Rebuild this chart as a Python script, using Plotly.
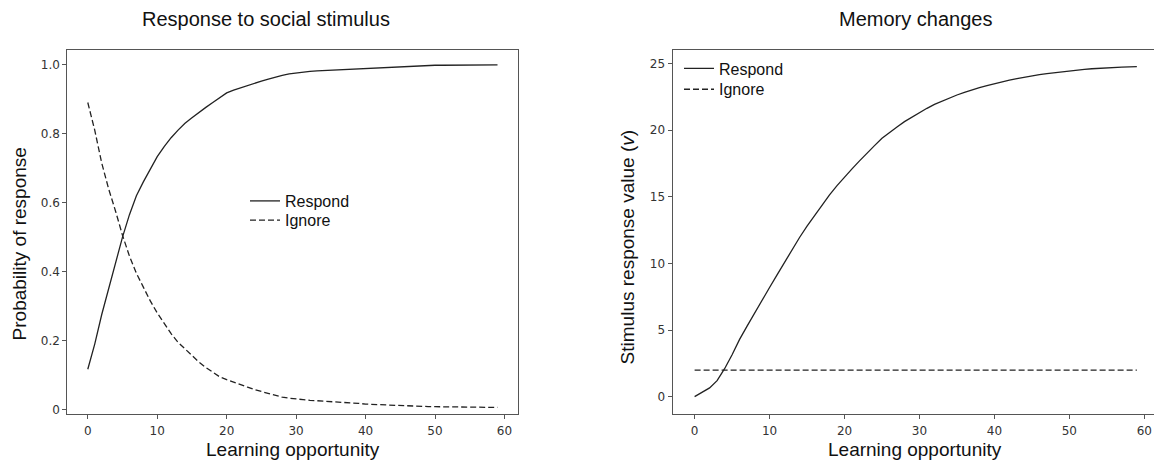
import plotly.graph_objects as go

# ---------------- data ----------------
x_steps = list(range(60))

prob_respond = [0.117, 0.19, 0.275, 0.35, 0.425, 0.5, 0.565, 0.62, 0.66, 0.695,
                0.733, 0.762, 0.788, 0.81, 0.83, 0.846, 0.862, 0.876, 0.89, 0.905,
                0.918, 0.926, 0.933, 0.94, 0.946, 0.952, 0.958, 0.964, 0.969, 0.973,
                0.976, 0.978, 0.98, 0.982, 0.983, 0.984, 0.985, 0.986, 0.987, 0.988,
                0.99, 0.991, 0.992, 0.993, 0.994, 0.995, 0.996, 0.996, 0.997, 0.997,
                0.998, 0.998, 0.998, 0.998, 0.999, 0.999, 0.999, 0.999, 0.999, 0.999]

prob_ignore = [0.89, 0.81, 0.715, 0.64, 0.575, 0.505, 0.445, 0.395, 0.355, 0.315,
               0.28, 0.25, 0.22, 0.195, 0.175, 0.155, 0.138, 0.122, 0.108, 0.095,
               0.087, 0.079, 0.072, 0.065, 0.058, 0.052, 0.046, 0.041, 0.036, 0.033,
               0.03, 0.029, 0.027, 0.026, 0.025, 0.023, 0.022, 0.021, 0.019, 0.018,
               0.016, 0.015, 0.014, 0.013, 0.012, 0.011, 0.010, 0.0095, 0.009, 0.0088,
               0.0085, 0.008, 0.0078, 0.0075, 0.0072, 0.007, 0.0068, 0.0067, 0.0066, 0.0066]

value_respond = [0.0, 0.3, 0.66, 1.2, 2.1, 3.15, 4.3, 5.3, 6.3, 7.3,
                 8.2, 9.15, 10.1, 11.0, 11.95, 12.8, 13.6, 14.4, 15.15, 15.85,
                 16.5, 17.1, 17.7, 18.3, 18.85, 19.4, 19.85, 20.25, 20.65, 21.0,
                 21.35, 21.65, 21.95, 22.2, 22.45, 22.65, 22.85, 23.05, 23.2, 23.35,
                 23.5, 23.63, 23.76, 23.88, 23.99, 24.1, 24.18, 24.26, 24.33, 24.4,
                 24.47, 24.52, 24.57, 24.62, 24.66, 24.69, 24.72, 24.74, 24.76, 24.78]

value_ignore = [2.0] * 60

x_ticks = [0, 10, 20, 30, 40, 50, 60]
prob_ticks = [0, 0.2, 0.4, 0.6, 0.8, 1.0]
prob_tick_text = ["0", "0.2", "0.4", "0.6", "0.8", "1.0"]
value_ticks = [0, 5, 10, 15, 20, 25]

# ---------------- figure ----------------
W, H = 1154, 463
def px(x):
    return x / W
def py(y):
    return 1 - y / H

LINE = "#222222"
DASH = "6px,3px"
SPINE = "#555555"
TEXT_FONT = "Liberation Sans, Arial, sans-serif"
TICK_FONT = dict(family="DejaVu Sans, sans-serif", size=12, color="#333333")
LEG_FONT = dict(family=TEXT_FONT, size=16, color="#111111")

fig = go.Figure()

fig.add_trace(go.Scatter(x=x_steps, y=prob_respond, mode="lines", name="Respond",
                         line=dict(color=LINE, width=1.3), xaxis="x", yaxis="y",
                         legend="legend"))
fig.add_trace(go.Scatter(x=x_steps, y=prob_ignore, mode="lines", name="Ignore",
                         line=dict(color=LINE, width=1.3, dash=DASH), xaxis="x", yaxis="y",
                         legend="legend2"))
fig.add_trace(go.Scatter(x=x_steps, y=value_respond, mode="lines", name="Respond",
                         line=dict(color=LINE, width=1.3), xaxis="x2", yaxis="y2",
                         legend="legend3"))
fig.add_trace(go.Scatter(x=x_steps, y=value_ignore, mode="lines", name="Ignore",
                         line=dict(color=LINE, width=1.3, dash=DASH), xaxis="x2", yaxis="y2",
                         legend="legend4"))

axis_common = dict(showgrid=False, zeroline=False, showline=True, linecolor=SPINE,
                   linewidth=1, ticks="outside", ticklen=4, tickcolor=SPINE,
                   tickfont=TICK_FONT, ticklabeloverflow="allow")

def leg(x, y_center):
    return dict(x=px(x), y=py(y_center - 16.5), xanchor="left", yanchor="top",
                bgcolor="rgba(0,0,0,0)", font=LEG_FONT, itemwidth=30)

top_y, bot_y = 50.3, 416.7
fig.update_layout(
    width=W, height=H,
    margin=dict(l=0, r=0, t=0, b=0),
    paper_bgcolor="white", plot_bgcolor="white",
    font=dict(family=TEXT_FONT, color="#111111"),
    xaxis=dict(domain=[px(67.3), px(518.0)], range=[-2.95, 61.95], tickvals=x_ticks,
               mirror=True, anchor="y", ticklabelstandoff=2, **axis_common),
    yaxis=dict(domain=[py(bot_y), py(top_y)], range=[-0.0127, 1.0423], tickvals=prob_ticks,
               ticktext=prob_tick_text, mirror=True, anchor="x", **axis_common),
    xaxis2=dict(domain=[px(672.5), 1.0], range=[-2.95, 61.29], tickvals=x_ticks,
                mirror=True, anchor="y2", ticklabelstandoff=2, **axis_common),
    yaxis2=dict(domain=[py(bot_y), py(top_y)], range=[-1.30, 26.03], tickvals=value_ticks,
                mirror=False, anchor="x2", **axis_common),
    legend=leg(245, 201.7),
    legend2=leg(245, 221.0),
    legend3=leg(679, 68.3),
    legend4=leg(679, 89.3),
    showlegend=True,
)

annotations = [
    dict(text="Response to social stimulus", x=px(266), y=py(19), xref="paper", yref="paper",
         showarrow=False, xanchor="center", yanchor="middle", font=dict(size=20)),
    dict(text="Memory changes", x=px(915), y=py(19), xref="paper", yref="paper",
         showarrow=False, xanchor="center", yanchor="middle", font=dict(size=20)),
    dict(text="Learning opportunity", x=px(293), y=py(452.5), xref="paper", yref="paper",
         showarrow=False, xanchor="center", yanchor="middle", font=dict(size=19)),
    dict(text="Learning opportunity", x=px(915), y=py(452.5), xref="paper", yref="paper",
         showarrow=False, xanchor="center", yanchor="middle", font=dict(size=19)),
    dict(text="Probability of response", x=px(19), y=py(246), xref="paper", yref="paper",
         showarrow=False, xanchor="center", yanchor="middle", textangle=-90, font=dict(size=19)),
    dict(text="Stimulus response value (<i>v</i>)", x=px(627), y=py(249), xref="paper", yref="paper",
         showarrow=False, xanchor="center", yanchor="middle", textangle=-90, font=dict(size=19)),
]
fig.update_layout(annotations=annotations)

fig.write_html("out.html",
               config={"displayModeBar": False},
               post_script="document.body.style.margin='0px';document.body.style.overflow='hidden';")
